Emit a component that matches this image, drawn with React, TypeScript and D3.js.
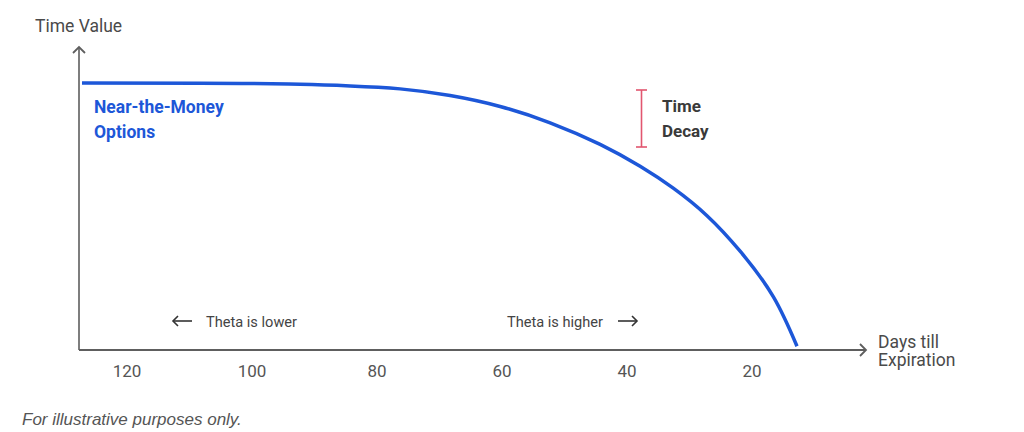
import React from "react";
import * as d3 from "d3";

const days = [127.2, 108.3, 100.3, 92.3, 84.3, 76.3, 68.3, 60.3, 52.3, 44.3, 37.9, 32.6, 27.2, 21.9, 16.6, 12.8];
const timeValue = [100, 99.9, 99.8, 99.5, 98.9, 97.8, 95.3, 91.2, 85.1, 77.0, 68.8, 60.6, 50.3, 37.0, 20.0, 1.4];
const tickDays = [120, 100, 80, 60, 40, 20];

const W = 1024;
const H = 432;
const FONT = "Roboto, 'Noto Sans', sans-serif";

export default function App() {
  const x = d3.scaleLinear().domain([120, 20]).range([127, 752]);
  const y = d3.scaleLinear().domain([0, 100]).range([350, 83]);
  const originX = 79;
  const originY = y(0);
  const axisEndX = 866;
  const axisTopY = 47;

  const pts = days.map((d, i) => [x(d), y(timeValue[i])] as [number, number]);
  const line = d3.line().curve(d3.curveNatural)(pts) || "";

  const axisColor = "#5e5e5e";
  const blue = "#1d57d8";
  const red = "#e2566f";

  const chev = (cx: number, cy: number, dir: "up" | "right" | "left", s = 6) => {
    if (dir === "up") return `M${cx - s},${cy + s} L${cx},${cy} L${cx + s},${cy + s}`;
    if (dir === "right") return `M${cx - s},${cy - s} L${cx},${cy} L${cx - s},${cy + s}`;
    return `M${cx + s},${cy - s} L${cx},${cy} L${cx + s},${cy + s}`;
  };

  return (
    <svg width={W} height={H} style={{ position: "absolute", left: 0, top: 0, background: "#fff" }}>
      {/* axes */}
      <line x1={originX} y1={originY} x2={originX} y2={axisTopY} stroke={axisColor} strokeWidth={1.6} />
      <path d={chev(originX, axisTopY, "up", 6)} fill="none" stroke={axisColor} strokeWidth={1.8} />
      <line x1={originX} y1={originY} x2={axisEndX} y2={originY} stroke={axisColor} strokeWidth={2} />
      <path d={chev(axisEndX, originY, "right", 6)} fill="none" stroke={axisColor} strokeWidth={1.8} />

      {/* axis titles */}
      <text x={35} y={32} fontFamily={FONT} fontSize={17.5} fill="#4a4a4a">Time Value</text>
      <text x={878} y={348} fontFamily={FONT} fontSize={17.5} fill="#4a4a4a">Days till</text>
      <text x={878} y={366} fontFamily={FONT} fontSize={17.5} fill="#4a4a4a">Expiration</text>

      {/* tick labels */}
      {tickDays.map((d) => (
        <text key={d} x={x(d)} y={377} textAnchor="middle" fontFamily={FONT} fontSize={17} fill="#555">
          {d}
        </text>
      ))}

      {/* curve */}
      <path d={line} fill="none" stroke={blue} strokeWidth={3.5} strokeLinecap="butt" />

      {/* curve label */}
      <text x={94} y={113} fontFamily={FONT} fontSize={17.5} fontWeight="bold" fill={blue}>Near-the-Money</text>
      <text x={94} y={138} fontFamily={FONT} fontSize={17.5} fontWeight="bold" fill={blue}>Options</text>

      {/* time decay bracket */}
      <line x1={641.5} y1={90} x2={641.5} y2={147} stroke={red} strokeWidth={1.6} />
      <line x1={636} y1={90} x2={647} y2={90} stroke={red} strokeWidth={1.6} />
      <line x1={636} y1={147} x2={647} y2={147} stroke={red} strokeWidth={1.6} />
      <text x={662} y={112} fontFamily={FONT} fontSize={17} fontWeight="bold" fill="#3a3a3a">Time</text>
      <text x={662} y={137} fontFamily={FONT} fontSize={17} fontWeight="bold" fill="#3a3a3a">Decay</text>

      {/* theta annotations */}
      <line x1={173} y1={321} x2={192} y2={321} stroke="#333" strokeWidth={1.6} />
      <path d={chev(173, 321, "left", 5)} fill="none" stroke="#333" strokeWidth={1.6} />
      <text x={206} y={327} fontFamily={FONT} fontSize={14.6} fill="#444">Theta is lower</text>
      <text x={507} y={327} fontFamily={FONT} fontSize={14.6} fill="#444">Theta is higher</text>
      <line x1={618} y1={321} x2={637} y2={321} stroke="#333" strokeWidth={1.6} />
      <path d={chev(637, 321, "right", 5)} fill="none" stroke="#333" strokeWidth={1.6} />

      {/* footer */}
      <text x={22} y={425} fontFamily="'Liberation Sans', Arial, sans-serif" fontSize={17} fontStyle="italic" fill="#555">
        For illustrative purposes only.
      </text>
    </svg>
  );
}
